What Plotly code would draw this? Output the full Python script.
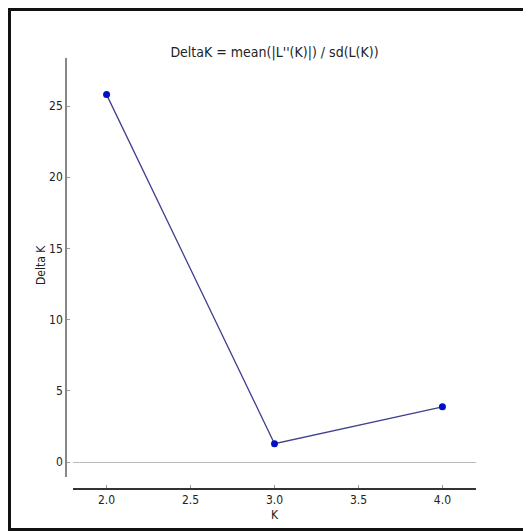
import plotly.graph_objects as go

K = [2.0, 3.0, 4.0]
delta_k = [25.8, 1.29, 3.88]
x_ticks = [2.0, 2.5, 3.0, 3.5, 4.0]
x_tick_labels = ["2.0", "2.5", "3.0", "3.5", "4.0"]
y_ticks = [0, 5, 10, 15, 20, 25]

FONT = "Liberation Sans Narrow, DejaVu Sans Condensed, Open Sans, sans-serif"

fig = go.Figure()
fig.add_trace(go.Scatter(
    x=K, y=delta_k, mode="lines+markers",
    line=dict(color="#40408e", width=1.3),
    marker=dict(color="#0010c8", size=7),
    showlegend=False,
))

# page has an 8px body margin, so the figure is 523x523 placed at (8, 8)
W, H = 523, 523
L, R, T, B = 58, 55, 50, 42
pw = W - L - R
ph = H - T - B

fig.update_layout(
    width=W, height=H,
    margin=dict(l=L, r=R, t=T, b=B),
    paper_bgcolor="white", plot_bgcolor="white",
    font=dict(family=FONT, size=12, color="#222"),
    title=dict(text="DeltaK = mean(|L''(K)|) / sd(L(K))",
               x=(266.5 - L) / pw, xref="paper", xanchor="center",
               y=1 - 44 / H, yref="container", yanchor="middle",
               font=dict(size=14, color="#222")),
    xaxis=dict(
        domain=[7 / pw, 1], anchor="free", position=0,
        range=[1.8, 4.2], tickvals=x_ticks, ticktext=x_tick_labels,
        showgrid=False, zeroline=False,
        showline=True, linecolor="#333", linewidth=2,
        ticks="inside", ticklen=3, tickcolor="#999",
    ),
    yaxis=dict(
        domain=[12 / ph, 1], anchor="free", position=0,
        range=[-1.05, 28.37], tickvals=y_ticks,
        showgrid=False, zeroline=True, zerolinecolor="#bbb", zerolinewidth=1,
        showline=True, linecolor="#888", linewidth=1.5,
        ticks="inside", ticklen=3, tickcolor="#999",
    ),
    annotations=[
        dict(text="K", xref="paper", yref="paper",
             x=(266.5 - L) / pw, y=(H - B - 507) / ph,
             xanchor="center", yanchor="middle", showarrow=False,
             font=dict(size=12)),
        dict(text="Delta K", xref="paper", yref="paper", textangle=-90,
             x=(33 - L) / pw, y=(H - B - 257) / ph,
             xanchor="center", yanchor="middle", showarrow=False,
             font=dict(size=12)),
    ],
    shapes=[dict(type="rect", xref="paper", yref="paper",
                 x0=(1.5 - L) / pw, x1=(540 - L) / pw,
                 y0=(H - B - 521.5) / ph, y1=(H - B - 1.5) / ph,
                 line=dict(color="#111", width=3), fillcolor="rgba(0,0,0,0)",
                 layer="below")],
)

fig.write_html("out.html")
